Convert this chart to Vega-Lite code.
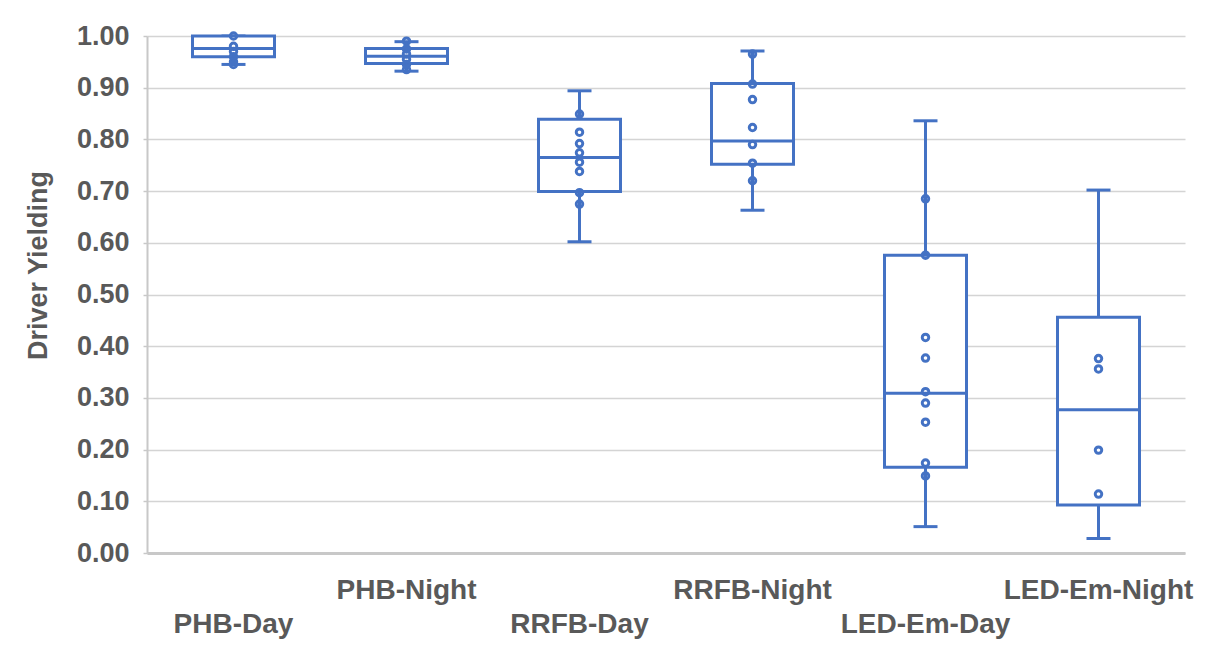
{
  "$schema": "https://vega.github.io/schema/vega-lite/v6.json",
  "autosize": "none",
  "width": 1038,
  "height": 517,
  "padding": {"left": 147, "top": 36, "right": 22, "bottom": 99},
  "background": "white",
  "config": {
    "view": {"stroke": null},
    "font": "Liberation Sans"
  },
  "datasets": {
    "boxes": [
      {"group": "PHB-Day", "min": 0.945, "q1": 0.960, "median": 0.976, "q3": 1.0, "max": 1.0},
      {"group": "PHB-Night", "min": 0.932, "q1": 0.947, "median": 0.961, "q3": 0.976, "max": 0.989},
      {"group": "RRFB-Day", "min": 0.602, "q1": 0.699, "median": 0.765, "q3": 0.839, "max": 0.894},
      {"group": "RRFB-Night", "min": 0.663, "q1": 0.752, "median": 0.797, "q3": 0.908, "max": 0.971},
      {"group": "LED-Em-Day", "min": 0.051, "q1": 0.166, "median": 0.309, "q3": 0.576, "max": 0.836},
      {"group": "LED-Em-Night", "min": 0.028, "q1": 0.093, "median": 0.277, "q3": 0.456, "max": 0.702}
    ],
    "points": [
      {"group": "PHB-Day", "value": 1.0},
      {"group": "PHB-Day", "value": 0.98},
      {"group": "PHB-Day", "value": 0.97},
      {"group": "PHB-Day", "value": 0.96},
      {"group": "PHB-Day", "value": 0.95},
      {"group": "PHB-Day", "value": 0.945},
      {"group": "PHB-Night", "value": 0.99},
      {"group": "PHB-Night", "value": 0.975},
      {"group": "PHB-Night", "value": 0.965},
      {"group": "PHB-Night", "value": 0.955},
      {"group": "PHB-Night", "value": 0.945},
      {"group": "PHB-Night", "value": 0.935},
      {"group": "RRFB-Day", "value": 0.849},
      {"group": "RRFB-Day", "value": 0.814},
      {"group": "RRFB-Day", "value": 0.792},
      {"group": "RRFB-Day", "value": 0.774},
      {"group": "RRFB-Day", "value": 0.756},
      {"group": "RRFB-Day", "value": 0.738},
      {"group": "RRFB-Day", "value": 0.697},
      {"group": "RRFB-Day", "value": 0.675},
      {"group": "RRFB-Night", "value": 0.965},
      {"group": "RRFB-Night", "value": 0.907},
      {"group": "RRFB-Night", "value": 0.877},
      {"group": "RRFB-Night", "value": 0.823},
      {"group": "RRFB-Night", "value": 0.79},
      {"group": "RRFB-Night", "value": 0.754},
      {"group": "RRFB-Night", "value": 0.72},
      {"group": "LED-Em-Day", "value": 0.685},
      {"group": "LED-Em-Day", "value": 0.576},
      {"group": "LED-Em-Day", "value": 0.417},
      {"group": "LED-Em-Day", "value": 0.377},
      {"group": "LED-Em-Day", "value": 0.312},
      {"group": "LED-Em-Day", "value": 0.29},
      {"group": "LED-Em-Day", "value": 0.253},
      {"group": "LED-Em-Day", "value": 0.174},
      {"group": "LED-Em-Day", "value": 0.149},
      {"group": "LED-Em-Night", "value": 0.376},
      {"group": "LED-Em-Night", "value": 0.356},
      {"group": "LED-Em-Night", "value": 0.199},
      {"group": "LED-Em-Night", "value": 0.114}
    ]
  },
  "encoding": {
    "x": {
      "field": "group",
      "type": "nominal",
      "sort": ["PHB-Day", "PHB-Night", "RRFB-Day", "RRFB-Night", "LED-Em-Day", "LED-Em-Night"],
      "scale": {"paddingInner": 0, "paddingOuter": 0},
      "axis": {
        "title": null,
        "labelAngle": 0,
        "labelFont": "Liberation Sans",
        "labelFontSize": 28,
        "labelFontWeight": "bold",
        "labelColor": "#595959",
        "labelBaseline": "top",
        "labelLimit": 0,
        "labelPadding": {"condition": {"test": "indexof(datum.value, 'Night') >= 0", "value": 23}, "value": 57},
        "labelOverlap": false,
        "labelBound": false,
        "ticks": false,
        "domainColor": "#C8C8C8",
        "domainWidth": 3,
        "grid": false
      }
    }
  },
  "layer": [
    {
      "data": {"name": "boxes"},
      "mark": {"type": "rule", "color": "#4472C4", "strokeWidth": 3},
      "encoding": {
        "y": {
          "field": "min",
          "type": "quantitative",
          "scale": {"domain": [0, 1], "nice": false, "zero": true},
          "axis": {
            "title": "Driver Yielding",
            "titleFont": "Liberation Sans",
            "titleFontSize": 27,
            "titleFontWeight": "bold",
            "titleColor": "#595959",
            "titleY": 229,
            "titlePadding": 24,
            "values": [0, 0.1, 0.2, 0.3, 0.4, 0.5, 0.6, 0.7, 0.8, 0.9, 1.0],
            "format": ".2f",
            "labelFont": "Liberation Sans",
            "labelFontSize": 27,
            "labelFontWeight": "bold",
            "labelColor": "#595959",
            "labelPadding": 14,
            "tickSize": 4,
            "tickColor": "#C8C8C8",
            "tickWidth": 1.5,
            "domainColor": "#C8C8C8",
            "domainWidth": 2,
            "gridColor": "#D4D4D4",
            "gridWidth": 1.5
          }
        },
        "y2": {"field": "max"}
      }
    },
    {
      "data": {"name": "boxes"},
      "mark": {"type": "tick", "color": "#4472C4", "opacity": 1, "thickness": 3, "size": 24, "orient": "horizontal"},
      "encoding": {"y": {"field": "min", "type": "quantitative"}}
    },
    {
      "data": {"name": "boxes"},
      "mark": {"type": "tick", "color": "#4472C4", "opacity": 1, "thickness": 3, "size": 24, "orient": "horizontal"},
      "encoding": {"y": {"field": "max", "type": "quantitative"}}
    },
    {
      "data": {"name": "boxes"},
      "mark": {"type": "bar", "fill": "white", "stroke": "#4472C4", "strokeWidth": 3, "size": 82},
      "encoding": {
        "y": {"field": "q1", "type": "quantitative"},
        "y2": {"field": "q3"}
      }
    },
    {
      "data": {"name": "boxes"},
      "mark": {"type": "tick", "color": "#4472C4", "opacity": 1, "thickness": 3, "size": 84, "orient": "horizontal"},
      "encoding": {"y": {"field": "median", "type": "quantitative"}}
    },
    {
      "data": {"name": "points"},
      "mark": {"type": "point", "shape": "circle", "filled": false, "fill": null, "stroke": "#4472C4", "strokeWidth": 3, "size": 42, "opacity": 1},
      "encoding": {"y": {"field": "value", "type": "quantitative"}}
    }
  ]
}
